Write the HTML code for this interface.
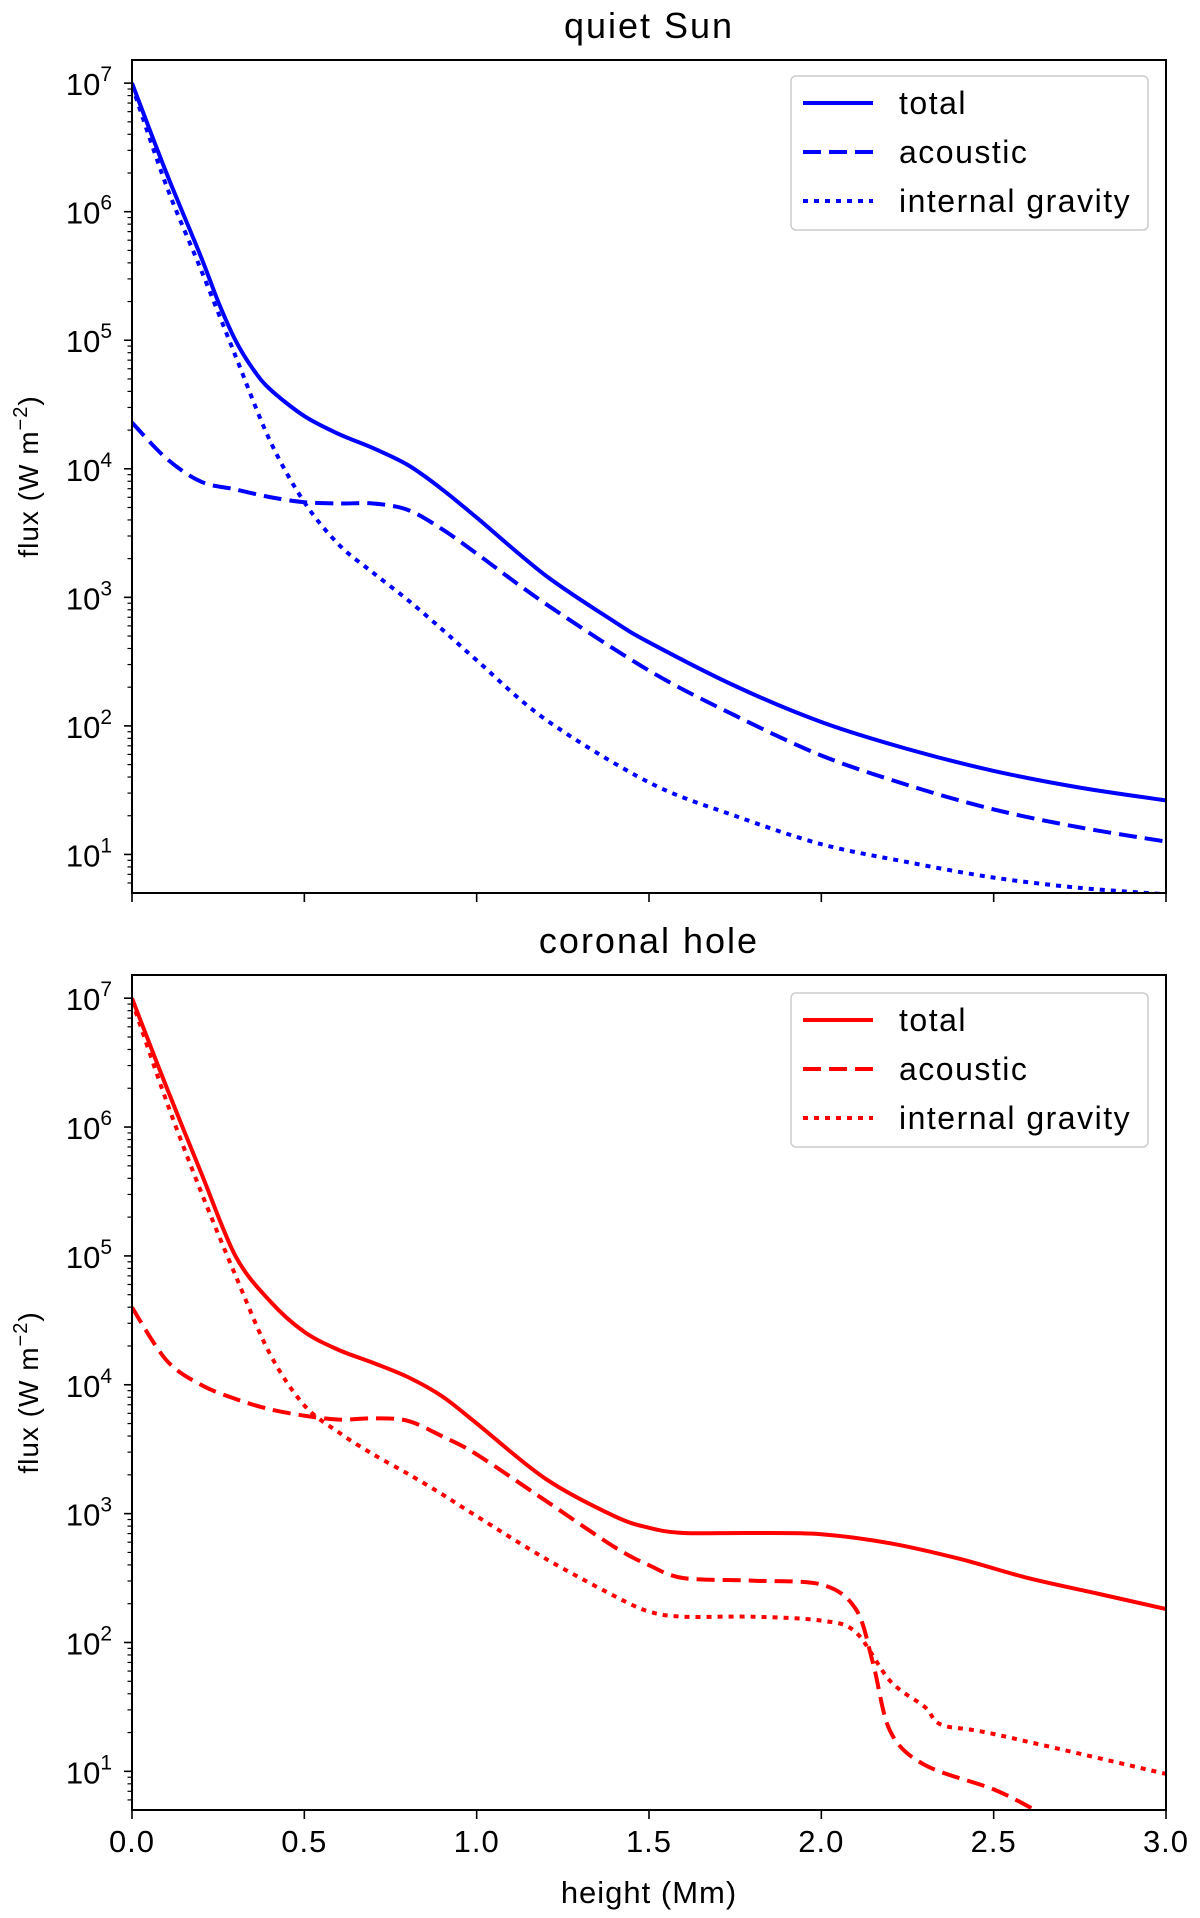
<!DOCTYPE html>
<html><head><meta charset="utf-8"><style>
body{margin:0;background:#fff}
svg{display:block;font-family:"Liberation Sans",sans-serif}
</style></head><body>
<svg id="c" width="1200" height="1918" viewBox="0 0 1200 1918" xmlns="http://www.w3.org/2000/svg"></svg>
<script>
// heights (Mm) and log10 flux (W m^-2)
const qsX = [0,0.1,0.2,0.25,0.3,0.35,0.4,0.5,0.6,0.7,0.8,0.9,1.0,1.2,1.4,1.5,1.75,2.0,2.25,2.5,2.75,3.0];
const qsTotal = [7.0,6.3,5.65,5.3,5.0,4.78,4.62,4.41,4.27,4.16,4.03,3.84,3.62,3.17,2.81,2.65,2.31,2.03,1.82,1.65,1.52,1.42];
const qsAcX = [0,0.1,0.2,0.3,0.4,0.5,0.6,0.7,0.8,0.9,1.0,1.2,1.5,1.75,2.0,2.25,2.5,2.75,3.0];
const qsAcoustic = [4.36,4.08,3.9,3.84,3.78,3.74,3.73,3.73,3.68,3.53,3.34,2.95,2.43,2.08,1.77,1.54,1.35,1.21,1.1];
const qsGrX = [0,0.1,0.2,0.3,0.4,0.5,0.6,0.7,0.8,0.9,1.0,1.2,1.5,1.75,2.0,2.25,2.5,2.75,3.0];
const qsGravity = [6.98,6.2,5.55,4.88,4.22,3.74,3.41,3.19,2.98,2.75,2.51,2.05,1.56,1.3,1.08,0.94,0.82,0.74,0.69];

const chX = [0,0.1,0.2,0.3,0.4,0.5,0.6,0.7,0.8,0.9,1.0,1.2,1.4,1.5,1.6,1.8,2.0,2.2,2.4,2.6,2.8,3.0];
const chTotal = [7.0,6.31,5.65,5.0,4.65,4.41,4.27,4.17,4.06,3.91,3.7,3.27,2.98,2.89,2.85,2.85,2.84,2.77,2.65,2.5,2.38,2.26];
const chAcX = [0,0.1,0.2,0.3,0.4,0.5,0.6,0.7,0.8,0.9,1.0,1.2,1.4,1.5,1.6,1.8,2.0,2.1,2.15,2.2,2.3,2.5,2.62];
const chAcoustic = [4.6,4.19,4.0,3.89,3.81,3.76,3.73,3.74,3.72,3.6,3.46,3.1,2.74,2.6,2.5,2.48,2.45,2.26,1.84,1.31,1.05,0.86,0.7];
const chGrX = [0,0.1,0.2,0.3,0.4,0.5,0.6,0.7,0.8,0.9,1.0,1.2,1.4,1.5,1.6,1.8,2.0,2.1,2.2,2.3,2.35,2.5,3.0];
const chGravity = [6.98,6.2,5.5,4.85,4.24,3.84,3.63,3.46,3.31,3.15,2.98,2.65,2.36,2.24,2.2,2.2,2.17,2.08,1.7,1.5,1.36,1.29,0.98];

const xTicks = [0,0.5,1.0,1.5,2.0,2.5,3.0];
const xTickLabels = ["0.0","0.5","1.0","1.5","2.0","2.5","3.0"];
const yDecades = [1,2,3,4,5,6,7];
const legendLabels = ["total","acoustic","internal gravity"];

const NS="http://www.w3.org/2000/svg";
const svg=document.getElementById('c');
function mk(tag,attrs,parent){const e=document.createElementNS(NS,tag);for(const k in attrs)e.setAttribute(k,attrs[k]);(parent||svg).appendChild(e);return e;}
const L=132,R=1166,LMIN=0.70,LMAX=7.18;
const xs=v=>L+(v-0)/(3-0)*(R-L);
const dashes={solid:null,dashed:"18,8",dotted:"5,6"};
function smooth(pts){
  let d='M'+pts[0][0].toFixed(1)+','+pts[0][1].toFixed(1);
  for(let i=0;i<pts.length-1;i++){
    const p0=pts[Math.max(0,i-1)],p1=pts[i],p2=pts[i+1],p3=pts[Math.min(pts.length-1,i+2)];
    const t=0.16;
    const c1=[p1[0]+(p2[0]-p0[0])*t,p1[1]+(p2[1]-p0[1])*t];
    const c2=[p2[0]-(p3[0]-p1[0])*t,p2[1]-(p3[1]-p1[1])*t];
    d+=` C${c1[0].toFixed(1)},${c1[1].toFixed(1)} ${c2[0].toFixed(1)},${c2[1].toFixed(1)} ${p2[0].toFixed(1)},${p2[1].toFixed(1)}`;
  }
  return d;
}

function panel(top,bot,title,color,series,legTop,showXLabels,pname){
  const g=mk('g',{});
  
  
  const ys=v=>bot-(v-LMIN)/(LMAX-LMIN)*(bot-top);
  const cp=mk('clipPath',{id:'cp'+pname},g);mk('rect',{x:L,y:top,width:R-L,height:bot-top},cp);
  const t=mk('text',{x:649,y:top-22,'font-size':36,'text-anchor':'middle','letter-spacing':2},g);t.textContent=title;
  
  const yl=mk('text',{transform:`translate(38,${(top+bot)/2}) rotate(-90)`,'font-size':28,'text-anchor':'middle','letter-spacing':1},g);
  yl.innerHTML='flux (W m<tspan dy="-11" font-size="20">−2</tspan><tspan dy="11">)</tspan>';
  
  series.forEach(s=>{
    const d=smooth(s.x.map((xv,i)=>[xs(xv),ys(s.y[i])]));
    const p=mk('path',{d,fill:'none',stroke:color,'stroke-width':4,'clip-path':`url(#cp${pname})`,'stroke-linejoin':'round'},g);
    if(dashes[s.style])p.setAttribute('stroke-dasharray',dashes[s.style]);
    
  });
  mk('rect',{x:L,y:top,width:R-L,height:bot-top,fill:'none',stroke:'#000','stroke-width':2},g);
  yDecades.forEach(dv=>{
    const y=ys(dv);
    mk('line',{x1:L-8,x2:L,y1:y,y2:y,stroke:'#000','stroke-width':1.6},g);
    const tl=mk('text',{x:L-20,y:y+12,'font-size':31,'text-anchor':'end'},g);
    tl.innerHTML=`10<tspan dy="-14" font-size="21">${dv}</tspan>`;
    
  });
  for(let dv=0;dv<=7;dv++)for(let m=2;m<=9;m++){const lv=dv+Math.log10(m);if(lv<LMIN||lv>LMAX)continue;const y=ys(lv);
    mk('line',{x1:L-4.5,x2:L,y1:y,y2:y,stroke:'#000','stroke-width':1.2},g);}
  xTicks.forEach((xv,i)=>{
    const x=xs(xv);mk('line',{x1:x,x2:x,y1:bot,y2:bot+9,stroke:'#000','stroke-width':1.6},g);
    if(showXLabels){const tl=mk('text',{x,y:bot+42,'font-size':31,'text-anchor':'middle','letter-spacing':1},g);tl.textContent=xTickLabels[i];
      }
  });
  const lg=mk('g',{},g);
  mk('rect',{x:791,y:legTop,width:357,height:154,rx:5,fill:'#fff',stroke:'#ccc','stroke-width':1.5},lg);
  series.forEach((s,i)=>{
    const y=legTop+27+i*49;
    const ln=mk('line',{x1:803,x2:873,y1:y,y2:y,stroke:color,'stroke-width':4},lg);
    if(dashes[s.style])ln.setAttribute('stroke-dasharray',dashes[s.style]);
    const tx=mk('text',{x:899,y:y+11,'font-size':32,'letter-spacing':1.5},lg);tx.textContent=legendLabels[i];
    
  });
}
panel(60,893,'quiet Sun','#0000ff',[
  {x:qsX,y:qsTotal,style:'solid',name:'total-line'},
  {x:qsAcX,y:qsAcoustic,style:'dashed',name:'acoustic-line'},
  {x:qsGrX,y:qsGravity,style:'dotted',name:'gravity-line'}],76,false,'quiet-sun-panel');
panel(975,1810,'coronal hole','#ff0000',[
  {x:chX,y:chTotal,style:'solid',name:'total-line'},
  {x:chAcX,y:chAcoustic,style:'dashed',name:'acoustic-line'},
  {x:chGrX,y:chGravity,style:'dotted',name:'gravity-line'}],993,true,'coronal-hole-panel');
const xl=mk('text',{x:649,y:1903,'font-size':31,'text-anchor':'middle','letter-spacing':1});xl.textContent='height (Mm)';


</script>
</body></html>
